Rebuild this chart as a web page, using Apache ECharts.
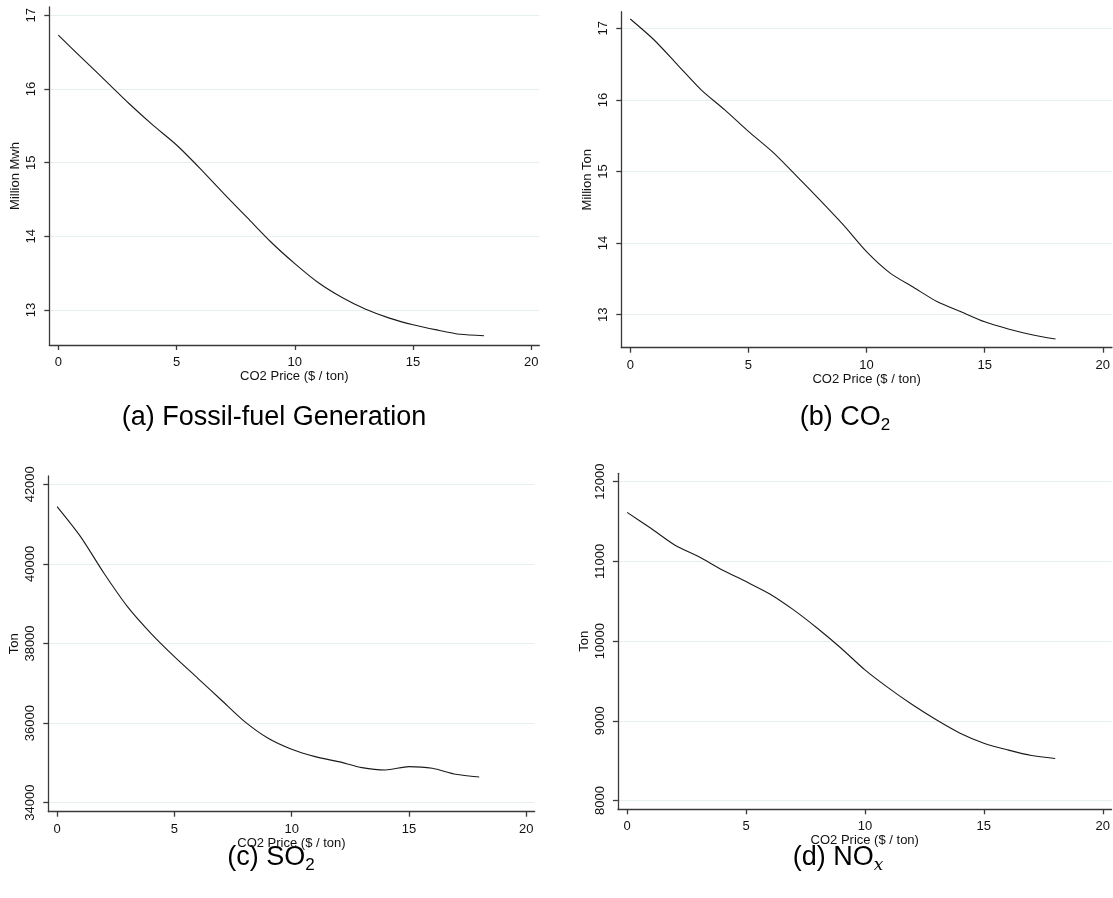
<!DOCTYPE html>
<html>
<head>
<meta charset="utf-8">
<script src="https://cdn.jsdelivr.net/npm/echarts@6/dist/echarts.min.js"></script>
<style>
html,body{margin:0;padding:0;background:#fff;}
#chart{width:1113px;height:898px;}
</style>
</head>
<body>
<div id="chart"></div>
<script>
// ---- data ----
const co2Price = [0,1,2,3,4,5,6,7,8,9,10,11,12,13,14,15,16,17,18];
const fossilGen = [16.73,16.42,16.11,15.80,15.51,15.24,14.92,14.58,14.25,13.92,13.63,13.37,13.17,13.01,12.89,12.80,12.73,12.67,12.65];
const co2Emis = [17.13,16.84,16.49,16.14,15.86,15.56,15.28,14.95,14.61,14.26,13.88,13.58,13.38,13.18,13.04,12.90,12.80,12.72,12.66];
const so2Emis = [41439,40685,39764,38926,38256,37670,37126,36581,36037,35618,35342,35157,35032,34881,34822,34906,34864,34714,34647];
const noxEmis = [11615,11415,11206,11060,10892,10746,10591,10391,10161,9910,9638,9409,9200,9012,8844,8719,8635,8564,8527];

const xTicks = [0,5,10,15,20];
const genTicks = [13,14,15,16,17];
const co2Ticks = [13,14,15,16,17];
const so2Ticks = [34000,36000,38000,40000,42000];
const noxTicks = [8000,9000,10000,11000,12000];

const xName = 'CO2 Price ($ / ton)';
const yNames = ['Million Mwh','Million Ton','Ton','Ton'];

// ---- styling / layout ----
const FONT = '"Liberation Sans", Arial, sans-serif';
const TXT = '#111';
const AXIS = '#3a3a3a';
const GRIDC = '#e6eef0';

const grids = [
  {left:49.3, top:7,    width:490,   height:338},
  {left:621.3,top:11.7, width:490.7, height:336},
  {left:48.3, top:476,  width:486.3, height:335.7},
  {left:617.9,top:473.3,width:493.8, height:336}
];
const xRanges = [[-0.381,20.338],[-0.381,20.39],[-0.375,20.36],[-0.387,20.37]];
const yRanges = [[12.525,17.113],[12.539,17.232],[33774,42208],[7889,12105]];
const yTickSets = [genTicks, co2Ticks, so2Ticks, noxTicks];
const seriesData = [fossilGen, co2Emis, so2Emis, noxEmis];
const plain = v => String(v);

const xAxes = grids.map((g,i)=>({
  type:'value', gridIndex:i, min:xRanges[i][0], max:xRanges[i][1],
  name:xName, nameLocation:'middle', nameGap:24,
  nameTextStyle:{color:TXT, fontSize:13, fontFamily:FONT},
  axisLine:{show:true, onZero:false, lineStyle:{color:AXIS, width:1.3}},
  axisTick:{show:true, length:5, customValues:xTicks, lineStyle:{color:AXIS, width:1.3}},
  axisLabel:{customValues:xTicks, formatter:plain, margin:11, color:TXT, fontSize:13, fontFamily:FONT},
  splitLine:{show:false}
}));
const yAxes = grids.map((g,i)=>({
  type:'value', gridIndex:i, min:yRanges[i][0], max:yRanges[i][1],
  name:yNames[i], nameLocation:'middle', nameGap:27,
  nameTextStyle:{color:TXT, fontSize:13, fontFamily:FONT},
  axisLine:{show:true, onZero:false, lineStyle:{color:AXIS, width:1.3}},
  axisTick:{show:true, length:5, customValues:yTickSets[i], lineStyle:{color:AXIS, width:1.3}},
  axisLabel:{customValues:yTickSets[i], formatter:plain, rotate:90, margin:11, color:TXT, fontSize:13, fontFamily:FONT},
  splitLine:{show:true, lineStyle:{color:GRIDC, width:1.2}}
}));
const series = seriesData.map((d,i)=>({
  type:'line', xAxisIndex:i, yAxisIndex:i,
  data: co2Price.map((x,k)=>[x,d[k]]),
  showSymbol:false, smooth:0.25,
  lineStyle:{color:'#1a1a1a', width:1.1},
  animation:false
}));

function caption(x,y,main,sub,italicSub){
  const rich = {
    m:{fontSize:27, fontFamily:FONT, fill:'#000', lineHeight:32},
    s:{fontSize:17, fontFamily: italicSub ? '"DejaVu Serif", "Liberation Serif", serif' : FONT,
       fontStyle: italicSub ? 'italic' : 'normal', fill:'#000', verticalAlign:'bottom', lineHeight:18}
  };
  return {type:'text', x:x, y:y, style:{
    text: sub ? '{m|'+main+'}{s|'+sub+'}' : '{m|'+main+'}',
    rich:rich, align:'center', verticalAlign:'middle', fill:'#000'
  }};
}

const chart = echarts.init(document.getElementById('chart'), null, {renderer:'canvas'});
chart.setOption({
  animation:false,
  backgroundColor:'#fff',
  grid: grids.map(g=>Object.assign({containLabel:false}, g)),
  xAxis:xAxes, yAxis:yAxes, series:series,
  graphic:[
    caption(274,418,'(a) Fossil-fuel Generation',null,false),
    caption(845,418,'(b) CO','2',false),
    caption(271,858,'(c) SO','2',false),
    caption(838,858,'(d) NO','x',true)
  ]
});
</script>
</body>
</html>
